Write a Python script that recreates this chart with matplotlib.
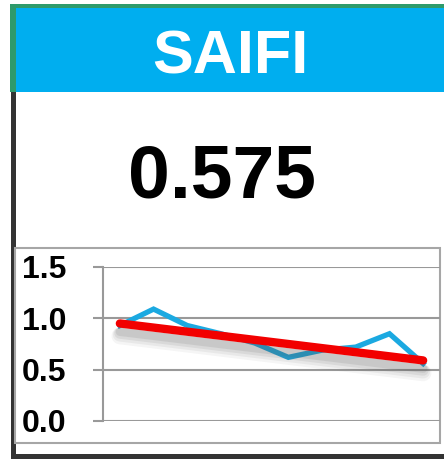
import matplotlib
matplotlib.use("Agg")
import matplotlib.pyplot as plt
import matplotlib.patheffects as pe
from matplotlib.patches import Rectangle
import numpy as np

# ---- data ----
title = "SAIFI"
headline_value = "0.575"
periods = list(range(1, 11))
saifi_values = [0.93, 1.09, 0.93, 0.85, 0.76, 0.62, 0.69, 0.72, 0.85, 0.56]
trend_values = [0.95, 0.59]          # trend line at first and last period
y_ticks = [0.0, 0.5, 1.0, 1.5]
y_tick_labels = ["0.0", "0.5", "1.0", "1.5"]

W, H = 444, 459
fig = plt.figure(figsize=(W / 100, H / 100), dpi=100)
fig.patch.set_facecolor("white")


def rect(x0, y0, x1, y1, **kw):
    """Rectangle given in pixel coords measured from the top-left."""
    r = Rectangle((x0 / W, 1 - y1 / H), (x1 - x0) / W, (y1 - y0) / H,
                  transform=fig.transFigure, **kw)
    fig.patches.append(r)
    return r


FONT = "Liberation Sans"

# header frame
rect(10, 4, 444, 8, facecolor="#2E9A6B", edgecolor="none", zorder=1)
rect(10, 4, 16, 92, facecolor="#2E9A6B", edgecolor="none", zorder=1)
rect(16, 8, 444, 92, facecolor="#00AEEF", edgecolor="none", zorder=1)
# dark left / bottom border
rect(11, 92, 16, 459, facecolor="#333333", edgecolor="none", zorder=1)
rect(11, 454, 444, 459, facecolor="#333333", edgecolor="none", zorder=1)
# chart box
rect(15, 248, 440, 443, facecolor="white", edgecolor="#A6A6A6", linewidth=1.5, zorder=2)

fig.text(230 / W, 1 - 73 / H, title, color="white", fontsize=44,
         fontweight="bold", family=FONT, ha="center", va="baseline")
fig.text(222 / W, 1 - 197 / H, headline_value, color="black", fontsize=54,
         fontweight="bold", family=FONT, ha="center", va="baseline")

# ---- small chart ----
ax = fig.add_axes([103 / W, 1 - 421 / H, (440 - 103) / W, (421 - 267) / H], zorder=3)
ax.set_facecolor("none")
ax.set_xlim(0.5, len(periods) + 0.5)
ax.set_ylim(0, 1.5)
ax.set_yticks(y_ticks)
ax.set_yticklabels(y_tick_labels)
ax.set_xticks([])
for s in ["top", "right", "bottom"]:
    ax.spines[s].set_visible(False)
ax.spines["left"].set_color("#999999")
ax.spines["left"].set_linewidth(1.5)
ax.yaxis.grid(True, color="#999999", linewidth=1.5)
ax.set_axisbelow(True)
ax.tick_params(axis="y", length=7.5, width=1.5, color="#999999", pad=19,
               labelsize=23)
for lab in ax.get_yticklabels():
    lab.set_fontweight("bold")
    lab.set_family(FONT)
ax.set_clip_on(False)

ax.plot(periods, saifi_values, color="#1BA9E1", linewidth=3.8,
        solid_joinstyle="miter", clip_on=False, zorder=4)

shadow = [pe.SimpleLineShadow(offset=(0, -d), shadow_color="#555555", alpha=a, linewidth=6 + w)
          for d, a, w in [(9, 0.06, 6), (8, 0.08, 4), (7, 0.1, 2), (6, 0.12, 0)]]
ax.plot([periods[0], periods[-1]], trend_values, color="#F20000", linewidth=6,
        solid_capstyle="round", clip_on=False, zorder=5,
        path_effects=shadow + [pe.Normal()])

fig.savefig("out.png", dpi=100, facecolor="white")
